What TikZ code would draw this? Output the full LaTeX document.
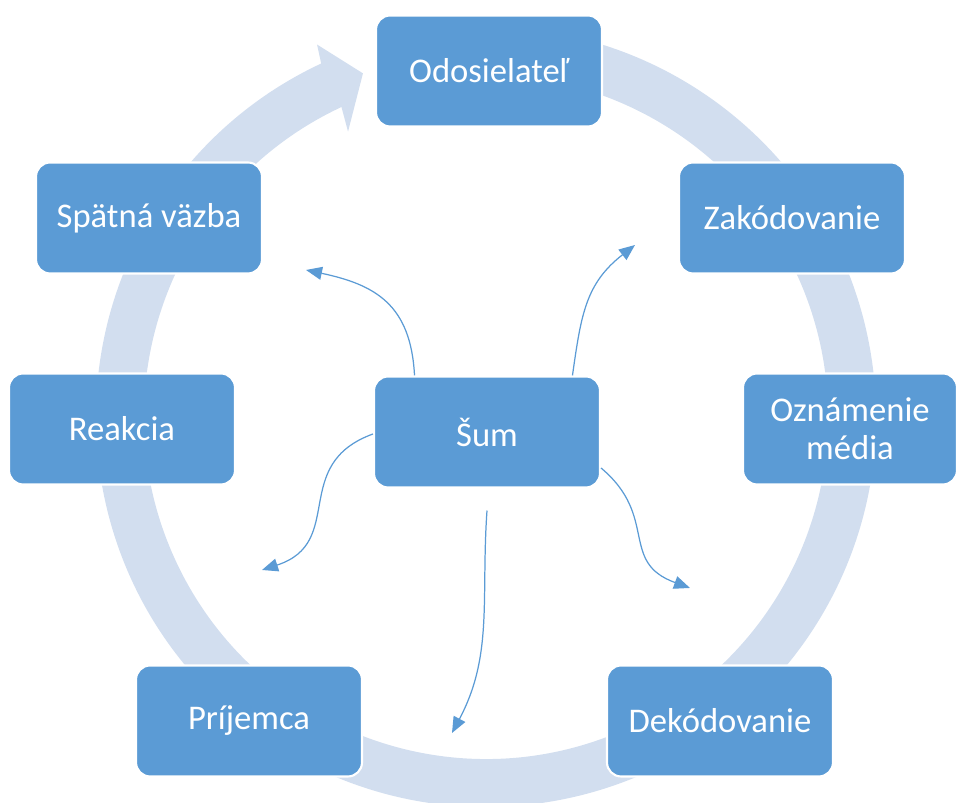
\documentclass[tikz,border=0pt]{standalone}
\usepackage{fontspec}
\setmainfont{Carlito}
\usetikzlibrary{arrows.meta}
\definecolor{boxblue}{RGB}{91,155,213}
\definecolor{ringblue}{RGB}{210,222,239}
\tikzset{
  stage/.style={rectangle, rounded corners=0.28cm, fill=boxblue, draw=white, line width=1.2pt,
    minimum width=4.52cm, minimum height=2.22cm, text=white, align=center,
    font=\fontsize{19.7}{21.5}\selectfont},
  noisearr/.style={-{Triangle[length=0.32cm, width=0.26cm]}, boxblue, line width=0.7pt},
  ring/.style={fill=ringblue, draw=none},
}

\begin{document}
\begin{tikzpicture}[x=0.02cm,y=0.02cm]
\useasboundingbox (0,0) rectangle (958,803);
% cycle ring with its head before the sender
\begin{scope}[shift={(486,386)}]
  \fill[ring] (100:390) arc[start angle=100, end angle=-245, radius=390]
    -- (-245.6:409) -- (-250.3:365) -- (-244.2:317) -- (-245:342)
    arc[start angle=-245, end angle=100, radius=342] -- cycle;
\end{scope}
\node[stage] (send)  at (489,732) {Odosielateľ};
\node[stage] (enc)   at (792,585) {Zakódovanie};
\node[stage, minimum width=4.28cm] (media) at (850,374) {Oznámenie\\média};
\node[stage] (dec)   at (720,82)  {Dekódovanie};
\node[stage] (recv)  at (249,82)  {Príjemca};
\node[stage] (react) at (122,374) {Reakcia};
\node[stage] (fb)    at (149,585) {Spätná väzba};
\node[stage] (noise) at (487,371) {Šum};
% noise spreading out
\coordinate (n1) at (306,533);
\coordinate (n2) at (635,558);
\coordinate (n3) at (262,233);
\coordinate (n4) at (690,215);
\coordinate (n5s) at ([yshift=-0.44cm]noise.south);
\coordinate (n5) at (452,70);
\draw[noisearr] ([xshift=-1.45cm]noise.north) to[out=93, in=-12, looseness=1.2] (n1);
\draw[noisearr] ([xshift=1.71cm]noise.north) to[out=82, in=-142, looseness=1.1] (n2);
\draw[noisearr] ([yshift=-0.04cm]noise.west) to[out=200, in=18, looseness=1.3] (n3);
\draw[noisearr] ([yshift=-0.72cm]noise.east) to[out=-40, in=160, looseness=1.3] (n4);
\draw[noisearr] (n5s) to[out=-94, in=62] (n5);
\end{tikzpicture}
\end{document}
